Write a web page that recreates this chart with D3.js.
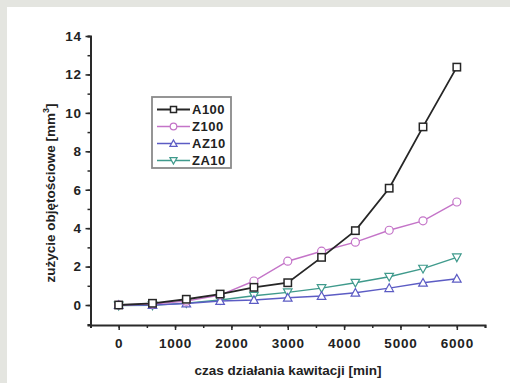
<!DOCTYPE html>
<html>
<head>
<meta charset="utf-8">
<script src="https://cdn.jsdelivr.net/npm/d3@7"></script>
<style>
  html, body { margin: 0; padding: 0; background: #e4e5e0; }
  svg { display: block; }
  text { font-family: "Liberation Sans", Arial, sans-serif; font-weight: bold; fill: #222; }
</style>
</head>
<body>
<svg id="chart" width="510" height="383"></svg>
<script>
// Cavitation time [min]
const times = [0, 600, 1200, 1800, 2400, 3000, 3600, 4200, 4800, 5400, 6000];

// Volumetric wear [mm^3] per material
const a100 = [0.0, 0.09, 0.3, 0.57, 0.92, 1.16, 2.48, 3.87, 6.08, 9.27, 12.38];
const z100 = [0.0, 0.05, 0.2, 0.52, 1.25, 2.28, 2.8, 3.27, 3.89, 4.38, 5.36];
const az10 = [0.0, 0.0, 0.08, 0.21, 0.26, 0.38, 0.47, 0.64, 0.88, 1.16, 1.37];
const za10 = [-0.03, -0.02, 0.1, 0.26, 0.48, 0.66, 0.88, 1.16, 1.47, 1.89, 2.48];

const seriesNames = ["A100", "Z100", "AZ10", "ZA10"];
const seriesValues = [a100, z100, az10, za10];
const seriesColors = ["#262626", "#c474c8", "#5c5cc4", "#3f9a8c"];
const seriesSymbols = ["square", "circle", "triUp", "triDown"];

const xTicks = [0, 1000, 2000, 3000, 4000, 5000, 6000];
const yTicks = [0, 2, 4, 6, 8, 10, 12, 14];

const svg = d3.select("#chart");

// white panel
svg.append("rect").attr("x", 7).attr("y", 7).attr("width", 503).attr("height", 376).attr("fill", "#fff");

const plot = { left: 90.5, right: 485, top: 36, bottom: 325 };
const x = d3.scaleLinear().domain([-500, 6500]).range([plot.left, plot.right]);
const y = d3.scaleLinear().domain([-1.04, 14]).range([plot.bottom, plot.top]);

const axisColor = "#2a2a2a";

// x axis: minor ticks every 500, labelled major ticks every 1000
const gx = svg.append("g").attr("transform", `translate(0,${plot.bottom})`);
gx.call(d3.axisBottom(x).tickValues(d3.range(-500, 6501, 500)).tickSize(3).tickFormat(""));
gx.selectAll(".tick line").attr("stroke", axisColor).attr("stroke-width", 1.5);
const gxMajor = svg.append("g").attr("transform", `translate(0,${plot.bottom})`);
gxMajor.call(d3.axisBottom(x).tickValues(xTicks).tickSize(5).tickPadding(8).tickFormat(d3.format("d")));
gxMajor.select(".domain").remove();
gxMajor.selectAll(".tick line").attr("stroke", axisColor).attr("stroke-width", 1.5);
gxMajor.selectAll(".tick text").attr("font-size", 13.5).attr("letter-spacing", 0.8)
  .attr("font-family", "Liberation Sans, Arial, sans-serif").attr("font-weight", "bold").attr("fill", "#222");

// y axis: minor ticks every 1, labelled major ticks every 2
const gy = svg.append("g").attr("transform", `translate(${plot.left},0)`);
gy.call(d3.axisLeft(y).tickValues(d3.range(-1, 14.1, 1)).tickSize(3).tickFormat(""));
gy.selectAll(".tick line").attr("stroke", axisColor).attr("stroke-width", 1.5);
const gyMajor = svg.append("g").attr("transform", `translate(${plot.left},0)`);
gyMajor.call(d3.axisLeft(y).tickValues(yTicks).tickSize(5).tickPadding(4).tickFormat(d3.format("d")));
gyMajor.select(".domain").remove();
gyMajor.selectAll(".tick line").attr("stroke", axisColor).attr("stroke-width", 1.5);
gyMajor.selectAll(".tick text").attr("font-size", 13.5).attr("letter-spacing", 0.6)
  .attr("font-family", "Liberation Sans, Arial, sans-serif").attr("font-weight", "bold").attr("fill", "#222");

svg.selectAll(".domain").attr("stroke", axisColor).attr("stroke-width", 2);

// axis titles
svg.append("text").attr("x", 288).attr("y", 375).attr("text-anchor", "middle")
  .attr("font-size", 13.5).text("czas działania kawitacji [min]");
const yl = svg.append("text").attr("transform", "translate(55,193) rotate(-90)")
  .attr("text-anchor", "middle").attr("font-size", 13.5);
yl.append("tspan").text("zużycie objętościowe [mm");
yl.append("tspan").attr("font-size", 9).attr("dy", -6).text("3");
yl.append("tspan").attr("dy", 6).text("]");

// marker drawing
function marker(g, type, cx, cy, color, r) {
  if (type === "square") {
    g.append("rect").attr("x", cx - r).attr("y", cy - r).attr("width", 2 * r).attr("height", 2 * r)
      .attr("fill", "#fff").attr("stroke", color).attr("stroke-width", 1.5);
  } else if (type === "circle") {
    g.append("circle").attr("cx", cx).attr("cy", cy).attr("r", r + 0.3)
      .attr("fill", "#fff").attr("stroke", color).attr("stroke-width", 1.2);
  } else {
    const s = type === "triUp" ? 1 : -1;
    const h = r + 0.6;
    const pts = [[cx, cy - s * h], [cx - h, cy + s * h * 0.8], [cx + h, cy + s * h * 0.8]];
    g.append("polygon").attr("points", pts.map(p => p.join(",")).join(" "))
      .attr("fill", "#fff").attr("stroke", color).attr("stroke-width", 1.2);
  }
}

const line = d3.line().x(d => x(d[0])).y(d => y(d[1]));

// draw series (last first so A100 is on top)
for (let i = seriesNames.length - 1; i >= 0; i--) {
  const pts = times.map((t, j) => [t, seriesValues[i][j]]);
  const g = svg.append("g");
  g.append("path").attr("d", line(pts)).attr("fill", "none")
    .attr("stroke", seriesColors[i]).attr("stroke-width", i === 0 ? 1.8 : 1.4);
  pts.forEach(p => marker(g, seriesSymbols[i], x(p[0]), y(p[1]), seriesColors[i], 3.7));
}

// legend
const lg = svg.append("g");
lg.append("rect").attr("x", 152).attr("y", 97).attr("width", 79).attr("height", 71)
  .attr("fill", "#fff").attr("stroke", "#8a8a8a").attr("stroke-width", 1.8);
seriesNames.forEach((name, i) => {
  const cy = 109.5 + i * 17;
  lg.append("line").attr("x1", 157).attr("x2", 190).attr("y1", cy).attr("y2", cy)
    .attr("stroke", seriesColors[i]).attr("stroke-width", i === 0 ? 1.8 : 1.4);
  marker(lg, seriesSymbols[i], 173.5, cy, seriesColors[i], 3);
  lg.append("text").attr("x", 192).attr("y", cy + 4.8).attr("font-size", 13)
    .attr("letter-spacing", 0.5).text(name);
});
</script>
</body>
</html>
